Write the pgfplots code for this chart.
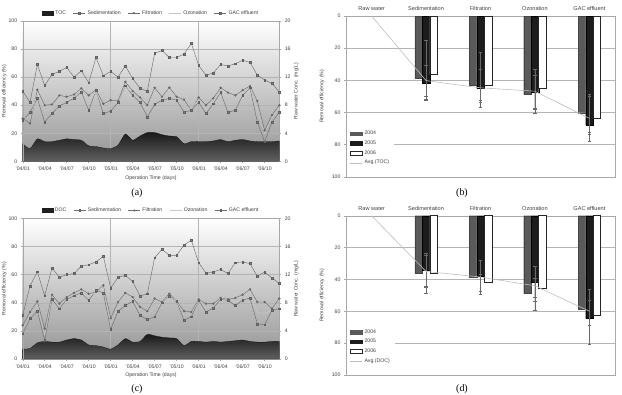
\documentclass[border=0pt]{standalone}
\usepackage{pgfplots}
\pgfplotsset{compat=1.18}
\usepackage{pgfplotstable}
\usepackage{fontspec}
\setmainfont{Liberation Sans}
\newfontfamily\capfont{Liberation Serif}

\definecolor{serg}{HTML}{6E6E6E}
\definecolor{ozog}{HTML}{C6C6C6}
\definecolor{framec}{HTML}{A8A8A8}
\definecolor{gridc}{HTML}{B4B4B4}
\definecolor{txt}{HTML}{404040}
\definecolor{y04}{HTML}{5A5A5A}
\definecolor{y05}{HTML}{1C1C1C}
\definecolor{avgc}{HTML}{BEBEBE}
\definecolor{errc}{HTML}{6A6A6A}

\newcommand{\tinyfont}{\fontsize{5.2}{6.2}\selectfont}

% Monthly TOC run (Jan 2004 - Dec 2006): raw-water TOC in mg/L, removal in %
\pgfplotstableread{
m toc sed fil ozo gac
0 2.5 29 30.5 31 50
1 1.8 35 27 31 42
2 3.2 44.8 51 48 69
3 2.8 28 40 36 54
4 2.8 34 40.5 38 62
5 3.0 39.5 47 43 64
6 3.2 42 46 44 67
7 3.1 45 47.6 46 60
8 3.0 49.5 52 50 64.5
9 2.2 36.4 47 42 56
10 2.1 50.5 51 50 74
11 1.9 34 41 38 61
12 1.8 35.7 43.5 40 64
13 2.3 42 43 42 60
14 3.9 53.8 56.7 54 68
15 3.0 47 50 48 59
16 3.6 42 45.5 43 52
17 4.1 31.7 40 37 50
18 4.1 40.5 52.4 46 77
19 3.8 43.6 46 45 79
20 3.6 44.8 52.6 48 74
21 3.5 43.6 46 44 74
22 2.5 35 44 40 76.4
23 2.8 36.4 36 37 84
24 2.8 42 45.5 44 68.3
25 2.8 34 40 37 61.4
26 2.9 41 45 43 63
27 3.1 49 52.4 50 69
28 2.8 34.8 49 42 68
29 3.0 36.4 47 42 69.5
30 3.1 47 50.7 49 72
31 2.9 52.4 53.6 53 70.5
32 2.8 28 43 36 61.4
33 2.8 14 22 20 58
34 2.8 28 33 31 55.5
35 2.9 35 40 38 49.5
}\toctab

% Monthly DOC run
\pgfplotstableread{
m doc sed fil ozo gac
0 1.4 18 24 21 31
1 1.5 28.7 33.4 31 52
2 2.3 34 41 38 62
3 2.5 13.3 21.6 17 45
4 2.4 42.4 45.7 44 64.7
5 2.4 35.8 39.3 37.5 58
6 2.7 42.4 44 43 60
7 2.9 45 47 46 60.7
8 2.7 47 49.5 48 66
9 2.0 41.7 46.4 44 67
10 1.9 48.8 47.6 48 69
11 1.7 47 52.4 50 73
12 1.4 21 29 25 50.5
13 2.0 34 40.5 37 58
14 2.9 38 47 42 59.5
15 2.4 41 44 42.5 55
16 2.5 31 37 34 44.8
17 3.5 28 34 31 46.4
18 3.3 30 43 37 72
19 3.1 40 40.5 40 78
20 3.0 44.8 46.4 45.5 73.7
21 2.9 41 41 41 73.7
22 1.9 27.5 34 31 81
23 2.5 30 33.4 32 84.4
24 2.5 41.7 42.4 42 68.5
25 2.4 33.4 39.3 36 61
26 2.5 36.3 39.3 38 61.8
27 2.4 42.4 43.4 43 63.7
28 2.5 41.7 42.4 42 60.7
29 2.6 38 43.4 41 68.5
30 2.7 41.7 45.7 44 69
31 2.5 43.4 49.5 46 67.8
32 2.4 25 40.5 33 58.8
33 2.4 24.4 40.5 32 61.8
34 2.5 34.6 35.8 35 57.6
35 2.5 35.8 43 39 53.6
}\doctab

\pgfplotsset{
  tsbase/.style={
    scale only axis, width=256.6bp,
    xmin=0, xmax=35, clip=false,
    tick style={framec, line width=0.4pt}, major tick length=2bp, tick align=outside,
    ticklabel style={font=\tinyfont, text=txt},
    /pgf/number format/assume math mode=true,
  },
  tsback/.style={
    tsbase,
    ymin=0, ymax=20, ytick={0,4,...,20},
    ytick pos=right, yticklabel pos=right,
    xtick={0,3,...,33}, xtick pos=left,
    xticklabels={'04/01,'04/04,'04/07,'04/10,'05/01,'05/04,'05/07,'05/10,'06/01,'06/04,'06/07,'06/10},
    axis background/.style={shade, top color=white, bottom color=black!42},
    axis line style={framec, line width=0.4pt},
    ymajorgrids, grid style={gridc, line width=0.4pt},
    extra x ticks={12,24}, extra x tick labels={},
    extra x tick style={grid=major, major tick length=0pt},
    ylabel={Raw water Conc. (mg/L)},
    every axis y label/.style={at={(rel axis cs:1,0.5)}, xshift=17bp, rotate=90, anchor=center, font=\tinyfont, text=txt},
    xlabel={Operation Time (days)},
    every axis x label/.style={at={(rel axis cs:0.5,0)}, yshift=-16.5bp, anchor=center, font=\tinyfont, text=txt},
  },
  tsfront/.style={
    tsbase,
    ymin=0, ymax=100, ytick={0,20,...,100},
    axis y line*=left, axis x line=none,
    y axis line style={framec, line width=0.4pt},
    ylabel={Removal efficiency (\%)},
    every axis y label/.style={at={(rel axis cs:0,0.5)}, xshift=-18.5bp, rotate=90, anchor=center, font=\tinyfont, text=txt},
    legend columns=5,
    legend style={at={(0.5,1)}, anchor=south, yshift=1bp, draw=none, fill=none,
      font=\tinyfont, text=txt, /tikz/every even column/.append style={column sep=5bp}},
    legend image code/.code={\draw[mark repeat=2,mark phase=2,##1] plot coordinates {(0bp,0bp) (6bp,0bp) (12bp,0bp)};},
  },
  tocleg/.style={legend image code/.code={\fill[black!88] (0bp,-1.8bp) rectangle (11bp,1.8bp);}},
  mline/.style={serg, line width=0.45pt, mark=square*, mark size=0.9bp, mark options={solid, fill=black!50, draw=black!62}},
  oline/.style={ozog, line width=0.5pt, mark=none},
  areast/.style={draw=black!90, line width=0.3pt, shade, top color=black!90, bottom color=black!62, smooth, tension=0.35},
  barbase/.style={
    scale only axis, width=269bp,
    xmin=-0.47, xmax=4.47, ymin=0, ymax=100, y dir=reverse,
    xtick={0,...,4},
    xticklabels={Raw water,Sedimentation,Filtration,Ozonation,GAC effluent},
    xtick pos=right, xticklabel pos=right,
    major x tick style={draw=none},
    ytick={0,20,...,100}, ytick pos=left,
    ymajorgrids, grid style={gridc, line width=0.4pt},
    axis line style={framec, line width=0.4pt},
    tick style={framec, line width=0.4pt}, major tick length=2bp, tick align=outside,
    ticklabel style={font=\tinyfont, text=txt},
    xticklabel style={font=\fontsize{5.6}{6.6}\selectfont},
    /pgf/number format/assume math mode=true,
    ylabel={Removal efficiency (\%)},
    every axis y label/.style={at={(rel axis cs:0,0.5)}, xshift=-24bp, rotate=90, anchor=center, font=\tinyfont, text=txt},
    legend style={at={(0.003,0.05)}, anchor=south west, draw=none, fill=white,
      font=\tinyfont, text=txt, row sep=0.6bp, inner xsep=3bp, inner ysep=1bp},
    legend cell align=left,
  },
  leg04/.style={legend image code/.code={\fill[y04] (0bp,-1.8bp) rectangle (12bp,1.8bp);}},
  leg05/.style={legend image code/.code={\fill[y05] (0bp,-1.8bp) rectangle (12bp,1.8bp);}},
  leg06/.style={legend image code/.code={\draw[black!85, line width=0.45pt, fill=white] (0bp,-1.8bp) rectangle (12bp,1.8bp);}},
  avgleg/.style={legend image code/.code={\draw[avgc, line width=0.6pt] (0bp,0bp) -- (12bp,0bp);}},
  err/.style={error bars/.cd, y dir=both, y explicit,
    error bar style={errc, line width=0.4pt, solid},
    error mark options={rotate=90, errc, mark size=1.7bp, line width=0.4pt}},
  b04/.style={ybar, bar width=0.138, bar shift=-0.138, fill=y04, draw=y04!75!black, line width=0.3pt, leg04, err},
  b05/.style={ybar, bar width=0.138, bar shift=0, fill=y05, draw=black, line width=0.3pt, leg05, err},
  b06/.style={ybar, bar width=0.138, bar shift=0.138, fill=white, draw=black!85, line width=0.45pt, leg06, err},
  avgline/.style={avgc, line width=0.6pt, sharp plot, mark=none, avgleg},
}

\begin{document}
\begin{tikzpicture}
\useasboundingbox (0bp,0bp) rectangle (622bp,-395bp);

% ---------- (a) TOC time series ----------
\begin{axis}[tsback, height=140.3bp, at={(22.7bp,-21bp)}, anchor=north west]
  \addplot[areast] table[x=m, y=toc]{\toctab} \closedcycle;
\end{axis}
\begin{axis}[tsfront, height=140.3bp, at={(22.7bp,-21bp)}, anchor=north west]
  \addlegendimage{tocleg}
  \addlegendentry{TOC}
  \addplot[mline] table[x=m, y=sed]{\toctab};
  \addlegendentry{Sedimentation}
  \addplot[mline, mark=*] table[x=m, y=fil]{\toctab};
  \addlegendentry{Filtration}
  \addplot[oline] table[x=m, y=ozo]{\toctab};
  \addlegendentry{Ozonation}
  \addplot[mline] table[x=m, y=gac]{\toctab};
  \addlegendentry{GAC effluent}
\end{axis}

% ---------- (c) DOC time series ----------
\begin{axis}[tsback, height=140.7bp, at={(22.7bp,-218.3bp)}, anchor=north west]
  \addplot[areast] table[x=m, y=doc]{\doctab} \closedcycle;
\end{axis}
\begin{axis}[tsfront, height=140.7bp, at={(22.7bp,-218.3bp)}, anchor=north west]
  \addlegendimage{tocleg}
  \addlegendentry{DOC}
  \addplot[mline] table[x=m, y=sed]{\doctab};
  \addlegendentry{Sedimentation}
  \addplot[mline, mark=*] table[x=m, y=fil]{\doctab};
  \addlegendentry{Filtration}
  \addplot[oline] table[x=m, y=ozo]{\doctab};
  \addlegendentry{Ozonation}
  \addplot[mline] table[x=m, y=gac]{\doctab};
  \addlegendentry{GAC effluent}
\end{axis}

% ---------- (b) TOC removal by stage ----------
\begin{axis}[barbase, height=160.7bp, at={(346bp,-16bp)}, anchor=north west]
  \addplot[b04] coordinates {
    (1,38.6) += (0,11.4) -= (0,12.6)
    (2,43.0) += (0,9.6) -= (0,12.7)
    (3,48.9) += (0,11.7) -= (0,10.9)
    (4,60.2) += (0,13.4) -= (0,19.2)};
  \addlegendentry{2004}
  \addplot[b05] coordinates {
    (1,41.6) += (0,11.0) -= (0,11.0)
    (2,45.0) += (0,12.0) -= (0,12.0)
    (3,47.4) += (0,10.6) -= (0,10.6)
    (4,67.8) += (0,9.9) -= (0,17.8)};
  \addlegendentry{2005}
  \addplot[b06] coordinates {
    (1,36.5) += (0,15.5) -= (0,21.7)
    (2,43.0) += (0,10.4) -= (0,20.5)
    (3,45.2) += (0,12.3) -= (0,11.8)
    (4,63.7) += (0,8.3) -= (0,14.8)};
  \addlegendentry{2006}
  \addplot[avgline] coordinates {(0,0) (1,40.2) (2,44.7) (3,46.8) (4,63.7)};
  \addlegendentry{Avg.(TOC)}
\end{axis}

% ---------- (d) DOC removal by stage ----------
\begin{axis}[barbase, height=159.3bp, at={(346bp,-215.7bp)}, anchor=north west]
  \addplot[b04] coordinates {
    (1,36.0) += (0,12.7) -= (0,29.2)
    (2,38.7) += (0,10.7) -= (0,37.2)
    (3,48.9) += (0,10.7) -= (0,17.9)
    (4,58.8) += (0,10.2) -= (0,28.8)};
  \addlegendentry{2004}
  \addplot[b05] coordinates {
    (1,34.4) += (0,9.6) -= (0,9.6)
    (2,37.9) += (0,9.3) -= (0,9.9)
    (3,41.5) += (0,9.7) -= (0,9.7)
    (4,64.6) += (0,16.2) -= (0,18.6)};
  \addlegendentry{2005}
  \addplot[b06] coordinates {
    (1,36.2) += (0,8.8) -= (0,12.4)
    (2,42.0) += (0,7.4) -= (0,5.4)
    (3,45.7) += (0,8.0) -= (0,6.7)
    (4,62.7) += (0,5.9) -= (0,9.7)};
  \addlegendentry{2006}
  \addplot[avgline] coordinates {(0,0) (1,35.0) (2,38.5) (3,44.0) (4,60.0)};
  \addlegendentry{Avg.(DOC)}
\end{axis}

% panel captions
\node[font=\capfont\fontsize{10}{12}\selectfont, anchor=base] at (137bp,-195bp) {(a)};
\node[font=\capfont\fontsize{10}{12}\selectfont, anchor=base] at (462bp,-195bp) {(b)};
\node[font=\capfont\fontsize{10}{12}\selectfont, anchor=base] at (137bp,-391.5bp) {(c)};
\node[font=\capfont\fontsize{10}{12}\selectfont, anchor=base] at (462bp,-391.5bp) {(d)};
\end{tikzpicture}
\end{document}
